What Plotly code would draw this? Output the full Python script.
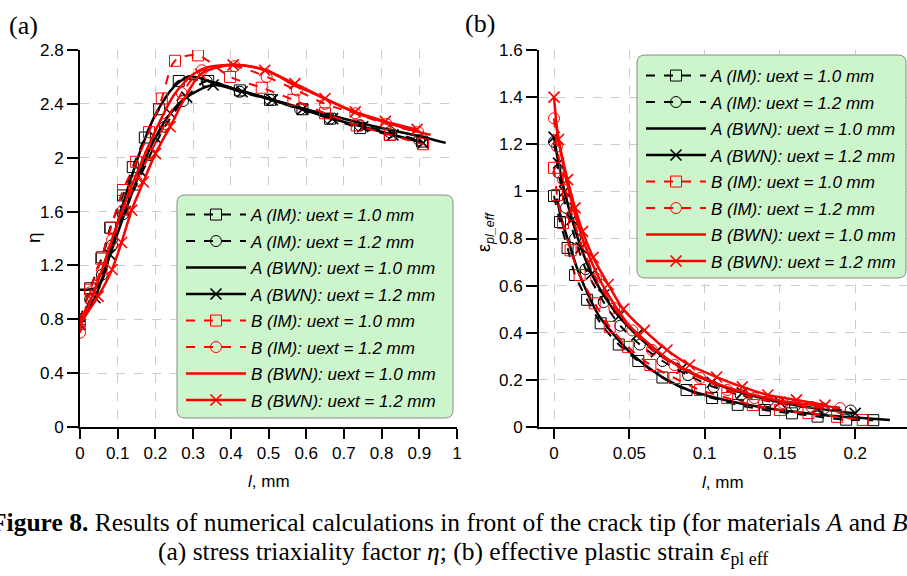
import plotly.graph_objects as go

# ---------------- Panel (a): stress triaxiality eta vs l ----------------
a_A_IM10_l = [0, 0.027, 0.058, 0.08, 0.114, 0.14, 0.172, 0.21, 0.262, 0.34, 0.424, 0.504, 0.59, 0.663, 0.743, 0.822, 0.907]
a_A_IM10_v = [0.80, 1.03, 1.26, 1.48, 1.72, 1.93, 2.15, 2.36, 2.57, 2.57, 2.50, 2.43, 2.36, 2.29, 2.22, 2.17, 2.12]
a_A_IM12_l = [0, 0.027, 0.058, 0.085, 0.114, 0.15, 0.186, 0.225, 0.273, 0.336, 0.424, 0.504, 0.584, 0.663, 0.743, 0.822, 0.90]
a_A_IM12_v = [0.76, 0.95, 1.13, 1.35, 1.58, 1.80, 2.02, 2.23, 2.42, 2.57, 2.49, 2.43, 2.36, 2.29, 2.24, 2.19, 2.13]
a_A_BWN10_l = [0, 0.02, 0.04, 0.06, 0.08, 0.1, 0.13, 0.16, 0.2, 0.25, 0.29, 0.32, 0.35, 0.4, 0.5, 0.6, 0.7, 0.8, 0.9, 0.97]
a_A_BWN10_v = [1.02, 1.02, 1.03, 1.10, 1.30, 1.52, 1.80, 2.05, 2.32, 2.53, 2.605, 2.59, 2.56, 2.52, 2.44, 2.36, 2.29, 2.22, 2.16, 2.11]
a_A_BWN12_l = [0, 0.04, 0.08, 0.12, 0.16, 0.2, 0.24, 0.283, 0.353, 0.43, 0.51, 0.59, 0.67, 0.75, 0.83, 0.91]
a_A_BWN12_v = [0.76, 0.96, 1.28, 1.60, 1.90, 2.15, 2.33, 2.45, 2.54, 2.49, 2.43, 2.36, 2.29, 2.23, 2.17, 2.11]
a_B_IM10_l = [0, 0.027, 0.056, 0.082, 0.114, 0.149, 0.183, 0.217, 0.252, 0.313, 0.398, 0.482, 0.566, 0.65, 0.734, 0.822, 0.91]
a_B_IM10_v = [0.79, 1.02, 1.25, 1.48, 1.76, 1.97, 2.19, 2.44, 2.72, 2.76, 2.60, 2.52, 2.43, 2.33, 2.24, 2.17, 2.10]
a_B_IM12_l = [0, 0.027, 0.058, 0.085, 0.114, 0.15, 0.186, 0.225, 0.27, 0.323, 0.41, 0.495, 0.575, 0.65, 0.73, 0.813, 0.897]
a_B_IM12_v = [0.70, 1.00, 1.17, 1.39, 1.61, 1.83, 2.03, 2.25, 2.48, 2.65, 2.68, 2.60, 2.50, 2.40, 2.33, 2.25, 2.19]
a_B_BWN10_l = [0, 0.05, 0.1, 0.15, 0.2, 0.25, 0.3, 0.336, 0.37, 0.406, 0.45, 0.495, 0.53, 0.566, 0.61, 0.655, 0.735, 0.814, 0.90, 0.93]
a_B_BWN10_v = [0.75, 1.10, 1.52, 1.88, 2.20, 2.47, 2.62, 2.67, 2.685, 2.69, 2.68, 2.65, 2.60, 2.54, 2.49, 2.43, 2.33, 2.26, 2.19, 2.17]
a_B_BWN12_l = [0, 0.048, 0.085, 0.11, 0.137, 0.168, 0.2, 0.239, 0.32, 0.406, 0.49, 0.57, 0.65, 0.73, 0.81, 0.894]
a_B_BWN12_v = [0.77, 0.97, 1.17, 1.37, 1.61, 1.82, 2.03, 2.23, 2.62, 2.69, 2.65, 2.55, 2.44, 2.34, 2.27, 2.21]

# ---------------- Panel (b): effective plastic strain vs l ----------------
b_A_IM10_l = [0, 0.004, 0.009, 0.014, 0.022, 0.031, 0.043, 0.056, 0.072, 0.088, 0.105, 0.122, 0.14, 0.158, 0.175, 0.194, 0.212]
b_A_IM10_v = [0.98, 0.87, 0.76, 0.645, 0.54, 0.44, 0.35, 0.28, 0.21, 0.157, 0.123, 0.094, 0.072, 0.058, 0.044, 0.031, 0.029]
b_A_IM12_l = [0, 0.003, 0.008, 0.014, 0.021, 0.033, 0.044, 0.057, 0.072, 0.089, 0.106, 0.124, 0.142, 0.16, 0.179, 0.197]
b_A_IM12_v = [1.21, 1.08, 0.93, 0.80, 0.67, 0.53, 0.43, 0.35, 0.28, 0.22, 0.17, 0.135, 0.11, 0.09, 0.078, 0.07]
b_A_BWN10_l = [0.002, 0.005, 0.01, 0.015, 0.02, 0.025, 0.03, 0.04, 0.05, 0.06, 0.075, 0.09, 0.1, 0.12, 0.15, 0.18, 0.2, 0.223]
b_A_BWN10_v = [0.97, 0.88, 0.78, 0.68, 0.60, 0.53, 0.47, 0.39, 0.32, 0.265, 0.20, 0.155, 0.136, 0.105, 0.072, 0.05, 0.04, 0.03]
b_A_BWN12_l = [0, 0.003, 0.007, 0.012, 0.018, 0.025, 0.033, 0.043, 0.055, 0.068, 0.085, 0.105, 0.125, 0.15, 0.175, 0.2]
b_A_BWN12_v = [1.23, 1.12, 1.00, 0.88, 0.76, 0.65, 0.56, 0.47, 0.39, 0.32, 0.25, 0.19, 0.145, 0.105, 0.078, 0.058]
b_B_IM10_l = [0, 0.002, 0.006, 0.011, 0.017, 0.027, 0.037, 0.049, 0.064, 0.08, 0.097, 0.115, 0.132, 0.15, 0.169, 0.188, 0.205]
b_B_IM10_v = [1.10, 0.985, 0.865, 0.75, 0.645, 0.525, 0.425, 0.34, 0.263, 0.208, 0.157, 0.123, 0.093, 0.072, 0.059, 0.043, 0.03]
b_B_IM12_l = [0, 0.002, 0.006, 0.012, 0.019, 0.028, 0.04, 0.052, 0.065, 0.08, 0.097, 0.115, 0.133, 0.152, 0.171, 0.19]
b_B_IM12_v = [1.31, 1.19, 1.05, 0.90, 0.76, 0.63, 0.505, 0.41, 0.327, 0.263, 0.208, 0.157, 0.123, 0.102, 0.085, 0.08]
b_B_BWN10_l = [0.001, 0.005, 0.01, 0.015, 0.02, 0.03, 0.04, 0.05, 0.06, 0.075, 0.09, 0.11, 0.13, 0.15, 0.17, 0.19]
b_B_BWN10_v = [1.30, 1.15, 1.00, 0.88, 0.78, 0.63, 0.52, 0.43, 0.37, 0.29, 0.235, 0.18, 0.14, 0.112, 0.095, 0.082]
b_B_BWN12_l = [0, 0.003, 0.009, 0.014, 0.019, 0.026, 0.036, 0.046, 0.06, 0.075, 0.09, 0.108, 0.125, 0.142, 0.161, 0.18]
b_B_BWN12_v = [1.40, 1.22, 1.05, 0.93, 0.83, 0.72, 0.605, 0.50, 0.41, 0.327, 0.263, 0.212, 0.17, 0.136, 0.115, 0.093]

names = ["A (IM): uext = 1.0 mm", "A (IM): uext = 1.2 mm",
         "A (BWN): uext = 1.0 mm", "A (BWN): uext = 1.2 mm",
         "B (IM): uext = 1.0 mm", "B (IM): uext = 1.2 mm",
         "B (BWN): uext = 1.0 mm", "B (BWN): uext = 1.2 mm"]

a_x_ticks = [0, 0.1, 0.2, 0.3, 0.4, 0.5, 0.6, 0.7, 0.8, 0.9, 1]
a_x_labels = ["0", "0.1", "0.2", "0.3", "0.4", "0.5", "0.6", "0.7", "0.8", "0.9", "1"]
a_y_ticks = [0, 0.4, 0.8, 1.2, 1.6, 2.0, 2.4, 2.8]
a_y_labels = ["0", "0.4", "0.8", "1.2", "1.6", "2", "2.4", "2.8"]
b_x_ticks = [0, 0.05, 0.1, 0.15, 0.2]
b_x_labels = ["0", "0.05", "0.1", "0.15", "0.2"]
b_y_ticks = [0, 0.2, 0.4, 0.6, 0.8, 1.0, 1.2, 1.4, 1.6]
b_y_labels = ["0", "0.2", "0.4", "0.6", "0.8", "1", "1.2", "1.4", "1.6"]

panel_a = [(a_A_IM10_l, a_A_IM10_v), (a_A_IM12_l, a_A_IM12_v), (a_A_BWN10_l, a_A_BWN10_v), (a_A_BWN12_l, a_A_BWN12_v),
           (a_B_IM10_l, a_B_IM10_v), (a_B_IM12_l, a_B_IM12_v), (a_B_BWN10_l, a_B_BWN10_v), (a_B_BWN12_l, a_B_BWN12_v)]
panel_b = [(b_A_IM10_l, b_A_IM10_v), (b_A_IM12_l, b_A_IM12_v), (b_A_BWN10_l, b_A_BWN10_v), (b_A_BWN12_l, b_A_BWN12_v),
           (b_B_IM10_l, b_B_IM10_v), (b_B_IM12_l, b_B_IM12_v), (b_B_BWN10_l, b_B_BWN10_v), (b_B_BWN12_l, b_B_BWN12_v)]

BLACK = "#000000"
RED = "#ff0000"
styles = [
    dict(color=BLACK, mode="lines+markers", dash="dash", symbol="square-open", width=2),
    dict(color=BLACK, mode="lines+markers", dash="dash", symbol="circle-open", width=2),
    dict(color=BLACK, mode="lines", dash="solid", symbol=None, width=2.5),
    dict(color=BLACK, mode="lines+markers", dash="solid", symbol="x-thin-open", width=2.5),
    dict(color=RED, mode="lines+markers", dash="dash", symbol="square-open", width=2),
    dict(color=RED, mode="lines+markers", dash="dash", symbol="circle-open", width=2),
    dict(color=RED, mode="lines", dash="solid", symbol=None, width=2.5),
    dict(color=RED, mode="lines+markers", dash="solid", symbol="x-thin-open", width=2.5),
]

fig = go.Figure()


def add_panel(data, xa, ya, legend_id, prefix):
    for i, ((lx, lv), st, nm) in enumerate(zip(data, styles, names)):
        sym = st["symbol"] or "circle"
        marker = dict(size=11, symbol=sym, color=st["color"],
                      line=dict(color=st["color"], width=1.6 if sym.startswith("x") else 1))
        fig.add_trace(go.Scatter(
            x=lx, y=lv, name=nm, mode=st["mode"],
            line=dict(color=st["color"], width=st["width"], dash=st["dash"], shape="spline", smoothing=0.8),
            marker=marker, xaxis=xa, yaxis=ya, legend=legend_id,
            legendgroup=prefix + str(i), showlegend=True))


add_panel(panel_a, "x", "y", "legend", "a")
add_panel(panel_b, "x2", "y2", "legend2", "b")

W, H = 907, 576


def px_x(v):
    return v / W


def px_y(v):
    return 1 - v / H


ydom = [px_y(427), px_y(50)]
sans = "Liberation Sans, Arial, sans-serif"
serif = "Liberation Serif, Times New Roman, serif"
tickfont = dict(family=sans, size=17, color="black")
axis_common = dict(showline=True, linecolor="black", linewidth=2, ticks="outside", tickcolor="black",
                   tickwidth=2, showgrid=True, gridcolor="#cccccc", gridwidth=1, griddash="dash",
                   zeroline=False, tickfont=tickfont, fixedrange=True)
legend_font = dict(family=sans, size=17, color="black", style="italic")

fig.update_layout(
    width=W, height=H, margin=dict(l=0, r=0, t=0, b=0, autoexpand=False),
    paper_bgcolor="white", plot_bgcolor="white",
    xaxis=dict(domain=[px_x(80), px_x(457)], range=[0, 1], anchor="y", tickvals=a_x_ticks, ticktext=a_x_labels,
               ticklen=10, **axis_common),
    yaxis=dict(domain=ydom, range=[0, 2.8], anchor="x", tickvals=a_y_ticks, ticktext=a_y_labels, ticklen=11,
               **axis_common),
    xaxis2=dict(domain=[px_x(539), 1], range=[-0.00996, 0.2344], anchor="y2", tickvals=b_x_ticks, ticktext=b_x_labels,
                ticklen=10, **axis_common),
    yaxis2=dict(domain=ydom, range=[0, 1.6], anchor="x2", tickvals=b_y_ticks, ticktext=b_y_labels, ticklen=11,
                **axis_common),
    legend=dict(x=px_x(181), y=px_y(197), xanchor="left", yanchor="top", bgcolor="rgba(0,0,0,0)",
                borderwidth=0, itemwidth=60, traceorder="grouped", tracegroupgap=1.4, font=legend_font),
    legend2=dict(x=px_x(641), y=px_y(58), xanchor="left", yanchor="top", bgcolor="rgba(0,0,0,0)",
                 borderwidth=0, itemwidth=60, traceorder="grouped", tracegroupgap=1.4, font=legend_font),
    showlegend=True,
)


def rounded_rect(x0, y0, x1, y1, r=8):
    X0, X1 = px_x(x0), px_x(x1)
    Y0, Y1 = px_y(y0), px_y(y1)
    rx, ry = r / W, r / H
    return (f"M{X0 + rx},{Y0} L{X1 - rx},{Y0} Q{X1},{Y0} {X1},{Y0 - ry} "
            f"L{X1},{Y1 + ry} Q{X1},{Y1} {X1 - rx},{Y1} L{X0 + rx},{Y1} Q{X0},{Y1} {X0},{Y1 + ry} "
            f"L{X0},{Y0 - ry} Q{X0},{Y0} {X0 + rx},{Y0} Z")


for box in [(177, 195, 453, 418), (637, 55, 906, 278)]:
    fig.add_shape(type="path", path=rounded_rect(*box), xref="paper", yref="paper",
                  fillcolor="#ccf5cc", line=dict(color="#8a8a8a", width=1), layer="above")


def note(text, x, y, size, family, xanchor="center", angle=0):
    fig.add_annotation(text=text, x=px_x(x), y=px_y(y), xref="paper", yref="paper", xanchor=xanchor,
                       yanchor="middle", showarrow=False, textangle=angle,
                       font=dict(family=family, size=size, color="black"))


# axis titles
note("<i>l</i>, mm", 268.5, 481, 17, sans)
note("<i>l</i>, mm", 723, 482, 17, sans)
note("η", 33, 238, 19, sans, angle=-90)
note("ε<sub><i>pl_eff</i></sub>", 485, 232, 18, sans, angle=-90)
# panel labels
note("(a)", 7, 25, 26, serif, xanchor="left")
note("(b)", 463, 23, 26, serif, xanchor="left")
# caption
note("<b>Figure 8.</b> Results of numerical calculations in front of the crack tip (for materials <i>A</i> and <i>B</i>)",
     453.5, 522, 25.5, serif)
note("(a) stress triaxiality factor <i>η</i>; (b) effective plastic strain <i>ε</i><sub>pl eff</sub>",
     463, 553, 25.5, serif)

fig.write_html("out.html", config={"displayModeBar": False},
               post_script="document.body.style.margin='0';document.body.style.overflow='hidden';")
